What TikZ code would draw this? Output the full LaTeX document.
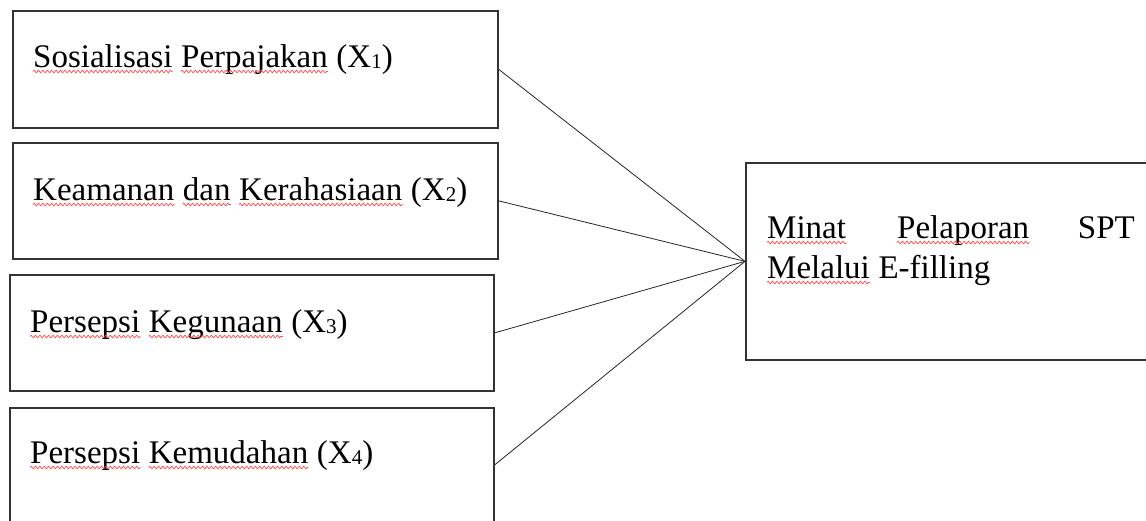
\documentclass[tikz,border=0pt]{standalone}
\usepackage{fontspec}
\setmainfont{Liberation Serif}
\usetikzlibrary{decorations.pathmorphing}
\definecolor{wavered}{HTML}{FF5050}
\definecolor{boxline}{HTML}{333333}
\tikzset{
  box/.style={draw=boxline, line width=1.7pt, rectangle, inner sep=0pt, anchor=north west},
  lbl/.style={inner sep=0pt, anchor=base west, font=\fontsize{33}{40}\selectfont, text=black},
  conn/.style={draw=black!85, line width=0.8pt},
  squig/.style={draw=wavered, line width=0.75pt, line join=round, decorate,
    decoration={zigzag, segment length=4.4pt, amplitude=1.4pt}}
}
\newcommand\wavy[1]{\draw[squig] ([yshift=-4.5pt]#1.base west) -- ([yshift=-4.5pt]#1.base east);}
\newcommand\sub[1]{\raisebox{-1pt}{\fontsize{21}{21}\selectfont #1}}
\begin{document}
\begin{tikzpicture}[x=1pt, y=-1pt]
\clip (0,0) rectangle (1146,520);
\fill[white] (0,0) rectangle (1146,520);
% left boxes
\node[box, minimum width=485pt, minimum height=117pt] (b1) at (12,10) {};
\node[box, minimum width=485pt, minimum height=116pt] (b2) at (12,142) {};
\node[box, minimum width=484pt, minimum height=116pt] (b3) at (9,274) {};
\node[box, minimum width=484pt, minimum height=114pt] (b4) at (9,407) {};
% right box
\node[box, minimum width=422pt, minimum height=197pt] (y) at (745,162) {};
% labels box 1
\node[lbl] (t1a) at (33,67) {Sosialisasi};
\node[lbl] (t1b) at ([xshift=8.25pt]t1a.base east) {Perpajakan};
\node[lbl] (t1c) at ([xshift=8.25pt]t1b.base east) {(X\sub{1})};
% labels box 2
\node[lbl] (t2a) at (33,200) {Keamanan};
\node[lbl] (t2b) at ([xshift=8.25pt]t2a.base east) {dan};
\node[lbl] (t2c) at ([xshift=8.25pt]t2b.base east) {Kerahasiaan};
\node[lbl] (t2d) at ([xshift=8.25pt]t2c.base east) {(X\sub{2})};
% labels box 3
\node[lbl] (t3a) at (30,332) {Persepsi};
\node[lbl] (t3b) at ([xshift=8.25pt]t3a.base east) {Kegunaan};
\node[lbl] (t3c) at ([xshift=8.25pt]t3b.base east) {(X\sub{3})};
% labels box 4
\node[lbl] (t4a) at (30,463) {Persepsi};
\node[lbl] (t4b) at ([xshift=8.25pt]t4a.base east) {Kemudahan};
\node[lbl] (t4c) at ([xshift=8.25pt]t4b.base east) {(X\sub{4})};
% labels right box (justified first line)
\node[lbl] (y1) at (767,238) {Minat};
\node[lbl] (y2) at (897,238) {Pelaporan};
\node[lbl, anchor=base east] (y3) at (1135,238) {SPT};
\node[lbl] (y4) at (767,278) {Melalui};
\node[lbl] (y5) at ([xshift=8.25pt]y4.base east) {E-filling};
% spelling squiggles
\wavy{t1a}\wavy{t1b}
\wavy{t2a}\wavy{t2b}\wavy{t2c}
\wavy{t3a}\wavy{t3b}
\wavy{t4a}\wavy{t4b}
\wavy{y1}\wavy{y2}\wavy{y4}
% connectors
\draw[conn] (b1.east) -- (y.west);
\draw[conn] (b2.east) -- (y.west);
\draw[conn] (b3.east) -- (y.west);
\draw[conn] (b4.east) -- (y.west);
\end{tikzpicture}
\end{document}
